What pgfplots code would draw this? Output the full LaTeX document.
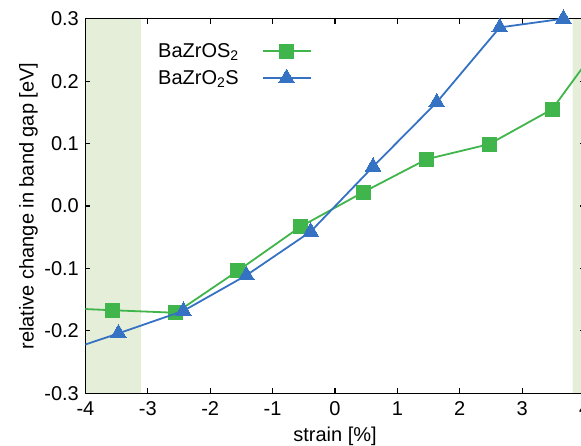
\documentclass[border=0pt]{standalone}
\usepackage{fontspec}
\setmainfont{Liberation Sans}
\usepackage{pgfplots}
\pgfplotsset{compat=1.18}
\definecolor{cgreen}{RGB}{64,181,75}
\definecolor{cblue}{RGB}{53,114,196}
\definecolor{shade}{RGB}{229,238,216}
\newcommand{\lbl}{\fontsize{20}{24}\selectfont}
\begin{document}
\begin{tikzpicture}
\begin{axis}[
  set layers=standard,
  scale only axis,
  width=499.2pt, height=374.6pt,
  xmin=-4, xmax=4, ymin=-0.3, ymax=0.3,
  xtick={-4,-3,-2,-1,0,1,2,3,4},
  xticklabels={-4,-3,-2,-1,0,1,2,3,4},
  ytick={-0.3,-0.2,-0.1,0,0.1,0.2,0.3},
  yticklabels={-0.3,-0.2,-0.1,0.0,0.1,0.2,0.3},
  minor tick num=0,
  tick align=inside,
  major tick length=5pt,
  tick style={black, line width=1.2pt},
  axis line style={black, line width=1.4pt},
  tick label style={font=\lbl},
  xticklabel style={yshift=-5pt},
  yticklabel style={xshift=-3pt},
  label style={font=\lbl},
  xlabel={strain [\%]},
  ylabel={relative change in band gap [eV]},
  xlabel style={at={(axis description cs:0.5,0)}, anchor=base, yshift=-47.7pt},
  ylabel style={at={(axis description cs:-0.114,0.5)}, anchor=center},
  clip mode=individual,
  legend plot pos=right,
  legend cell align=left,
  legend image code/.code={\draw[#1,mark=none] (0pt,0pt) -- (48pt,0pt); \path[#1] plot coordinates {(24pt,0pt)};},
  legend style={draw=none, fill=none, font=\lbl, at={(axis description cs:0.1454,0.934)}, anchor=north west,
    inner sep=0pt, column sep=23pt, row sep=10pt, nodes={inner sep=0pt}},
]
\addplot[fill=shade, draw=none, forget plot, on layer=axis background] coordinates {(-4,-0.3) (-3.11,-0.3) (-3.11,0.3) (-4,0.3) (-4,-0.3)};
\addplot[fill=shade, draw=none, forget plot, on layer=axis background] coordinates {(3.81,-0.3) (4,-0.3) (4,0.3) (3.81,0.3) (3.81,-0.3)};
% line extensions beyond the axis range (clipped)
\addplot[cgreen, line width=1.8pt, forget plot] coordinates {(-4.55,-0.1626) (-3.56,-0.167)};
\addplot[cgreen, line width=1.8pt, forget plot] coordinates {(3.48,0.155) (4.49,0.293)};
\addplot[cblue, line width=1.8pt, forget plot] coordinates {(-4.48,-0.238) (-3.47,-0.204)};
\addplot[cgreen, line width=1.8pt, mark=square*, mark size=7pt, mark options={solid, fill=cgreen, draw=cgreen, line width=0pt}]
coordinates {
(-3.56,-0.167)
(-2.55,-0.171)
(-1.56,-0.104)
(-0.55,-0.033)
(0.45,0.022)
(1.47,0.075)
(2.47,0.099)
(3.48,0.155)
};
\addlegendentry{BaZrOS\textsubscript{2}}
\addplot[cblue, line width=1.8pt, mark=triangle*, mark size=9pt, mark options={solid, fill=cblue, draw=cblue, line width=0pt}]
coordinates {
(-3.47,-0.204)
(-2.43,-0.168)
(-1.42,-0.111)
(-0.39,-0.041)
(0.61,0.063)
(1.63,0.166)
(2.64,0.286)
(3.66,0.300)
};
\addlegendentry{BaZrO\textsubscript{2}S}
\end{axis}
\pgfresetboundingbox
\path[use as bounding box] (-85.4pt,-51.7pt) rectangle (495.6pt,393.3pt);
\end{tikzpicture}
\end{document}
